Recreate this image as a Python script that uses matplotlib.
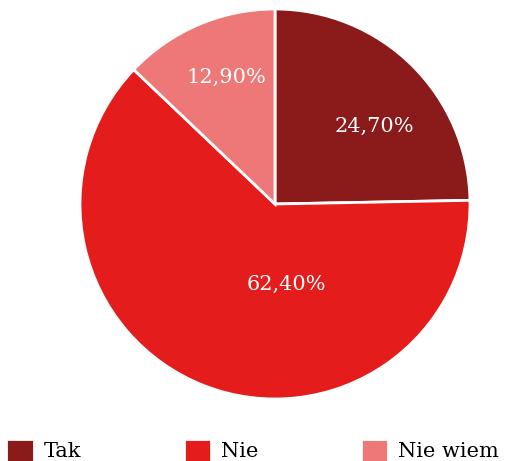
import matplotlib.pyplot as plt

labels = ['Tak', 'Nie', 'Nie wiem']
values = [24.7, 62.4, 12.9]
colors = ['#8b1a1a', '#e51c1c', '#ee7777']

# pozycje etykiet procentowych (w jednostkach promienia)
label_pos = [(0.51, 0.40), (0.06, -0.41), (-0.25, 0.65)]

plt.rcParams['font.family'] = ['DejaVu Serif']

fig = plt.figure(figsize=(5.12, 4.61), dpi=100)
r = 195
cx, cy = 275, 461 - 204
ax = fig.add_axes([(cx - r) / 512, (cy - r) / 461, 2 * r / 512, 2 * r / 461])

wedges, texts, autotexts = ax.pie(
    values, colors=colors, startangle=90, counterclock=False,
    autopct=lambda p: f'{p:.2f}%'.replace('.', ','),
    wedgeprops=dict(edgecolor='white', linewidth=2),
    textprops=dict(color='white', fontsize=15))
ax.set_xlim(-1, 1)
ax.set_ylim(-1, 1)
ax.set_aspect('equal')

for t, (x, y) in zip(autotexts, label_pos):
    t.set_position((x, y))

fig.legend(wedges, labels, loc='lower left', bbox_to_anchor=(-0.024, -0.042),
           ncol=3, frameon=False, fontsize=15, handlelength=1.3, handleheight=1.3,
           handletextpad=0.5, columnspacing=4.9)

fig.savefig('out.png', dpi=100)
